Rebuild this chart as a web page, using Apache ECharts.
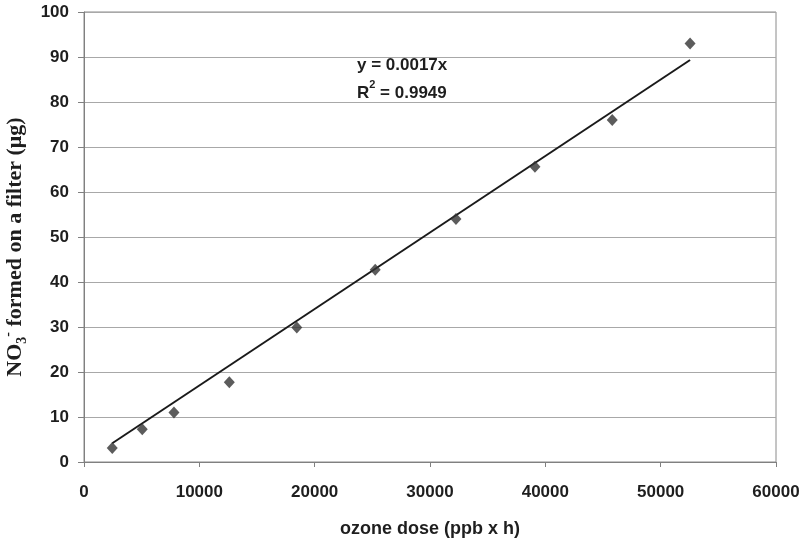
<!DOCTYPE html>
<html>
<head>
<meta charset="utf-8">
<script src="https://cdn.jsdelivr.net/npm/echarts@6/dist/echarts.min.js"></script>
<style>html,body{margin:0;padding:0;background:#fff}#c{width:810px;height:544px}</style>
</head>
<body>
<div id="c"></div>
<script>
var ozoneDose = [2450, 5050, 7800, 12600, 18450, 25250, 32250, 39100, 45800, 52550];
var nitrate   = [3.1, 7.3, 11.0, 17.7, 29.9, 42.7, 54.0, 65.6, 76.0, 93.0];
var slope = 0.0017;
var xTicks = [0, 10000, 20000, 30000, 40000, 50000, 60000];
var yTicks = [0, 10, 20, 30, 40, 50, 60, 70, 80, 90, 100];

var points = ozoneDose.map(function (x, i) { return [x, nitrate[i]]; });
var xFirst = ozoneDose[0], xLast = ozoneDose[ozoneDose.length - 1];
var trend = [[xFirst, slope * xFirst], [xLast, slope * xLast]];

var chart = echarts.init(document.getElementById('c'), null, {renderer: 'canvas'});
var sans = '"Liberation Sans", Arial, sans-serif';
var serif = '"Liberation Serif", "Times New Roman", serif';
chart.setOption({
  animation: false,
  backgroundColor: '#fff',
  grid: {left: 84, right: 34, top: 12, bottom: 82, outerBoundsMode: 'none', containLabel: false,
         show: true, borderColor: '#8a8a8a', borderWidth: 1, backgroundColor: 'transparent'},
  xAxis: {
    type: 'value', min: xTicks[0], max: xTicks[xTicks.length - 1], interval: 10000,
    axisLine: {show: true, lineStyle: {color: '#808080', width: 1}},
    axisTick: {show: true, length: 5, lineStyle: {color: '#808080'}},
    splitLine: {show: false},
    axisLabel: {color: '#1e1e1e', fontFamily: sans, fontWeight: 'bold', fontSize: 17, margin: 22,
                formatter: function (v) { return String(v); }},
    name: 'ozone dose (ppb x h)', nameLocation: 'middle', nameGap: 58,
    nameTextStyle: {color: '#1e1e1e', fontFamily: sans, fontWeight: 'bold', fontSize: 18}
  },
  yAxis: {
    type: 'value', min: yTicks[0], max: yTicks[yTicks.length - 1], interval: 10,
    axisLine: {show: true, lineStyle: {color: '#808080', width: 1}},
    axisTick: {show: true, length: 6, lineStyle: {color: '#808080'}},
    splitLine: {show: true, lineStyle: {color: '#a8a8a8', width: 1}},
    axisLabel: {color: '#1e1e1e', fontFamily: sans, fontWeight: 'bold', fontSize: 17, margin: 15},
    name: '{b|NO}{s|3}{p|-}{b| formed on a filter (μg)}',
    nameLocation: 'middle', nameGap: 54, nameRotate: 90,
    nameTextStyle: {
      color: '#1e1e1e',
      padding: [0, 20, 0, 0],
      rich: {
        b: {fontFamily: serif, fontWeight: 'bold', fontSize: 22, color: '#1e1e1e', lineHeight: 28},
        s: {fontFamily: serif, fontWeight: 'bold', fontSize: 14, color: '#1e1e1e', verticalAlign: 'bottom', lineHeight: 12},
        p: {fontFamily: serif, fontWeight: 'bold', fontSize: 14, color: '#1e1e1e', verticalAlign: 'top', lineHeight: 12}
      }
    }
  },
  series: [
    {
      type: 'line', data: trend, symbol: 'none', silent: true,
      lineStyle: {color: '#1a1a1a', width: 2}, z: 2
    },
    {
      type: 'scatter', data: points, symbol: 'diamond', symbolSize: [11, 12],
      itemStyle: {color: '#333333'}, z: 3
    }
  ],
  graphic: [
    {type: 'text', left: 357, top: 57, style: {text: 'y = 0.0017x', fill: '#1e1e1e', font: 'bold 17px ' + sans}},
    {type: 'text', left: 357, top: 79, style: {
      text: '{a|R}{u|2}{a| = 0.9949}',
      rich: {
        a: {fill: '#1e1e1e', fontFamily: sans, fontWeight: 'bold', fontSize: 17, lineHeight: 23, verticalAlign: 'bottom'},
        u: {fill: '#1e1e1e', fontFamily: sans, fontWeight: 'bold', fontSize: 11, lineHeight: 11, verticalAlign: 'top'}
      }
    }}
  ]
});
</script>
</body>
</html>
